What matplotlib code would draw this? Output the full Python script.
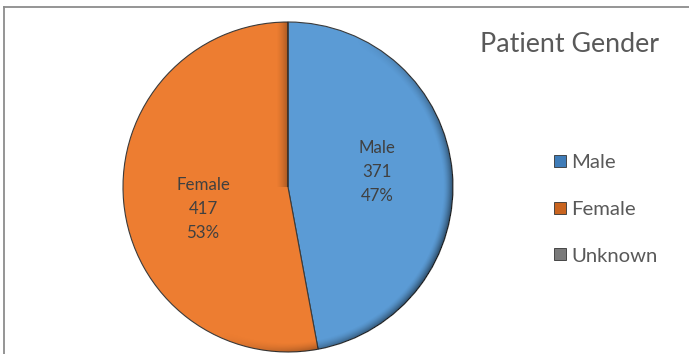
import matplotlib.pyplot as plt
from matplotlib.lines import Line2D
import numpy as np

# donnees du graphique
categories = ["Male", "Female", "Unknown"]
patients = [371, 417, 0]
couleurs = ["#5B9BD5", "#ED7D31", "#A5A5A5"]
couleurs_legende = ["#3F7CB8", "#C9641F", "#7A7A7A"]
titre = "Patient Gender"

W, H = 689, 354
cx, cy, R = 288, 167, 165

plt.rcParams['font.family'] = ['Lato', 'DejaVu Sans']

fig = plt.figure(figsize=(W / 100, H / 100), dpi=100)
ax = fig.add_axes([0, 0, 1, 1])

wedges, _ = ax.pie(patients, colors=couleurs, startangle=90, counterclock=False,
                   center=(cx, cy), radius=R,
                   wedgeprops=dict(edgecolor="#3b3b3b", linewidth=0.8))

# ombrage type biseau (bord droit / bas et cote de la separation)
xs = np.arange(W) + 0.5
ys = np.arange(H) + 0.5
X, Y = np.meshgrid(xs, ys)
r = np.hypot(X - cx, Y - cy)
ang = np.arctan2(Y - cy, X - cx)
d_bord = R - r
a = 0.55 * np.clip(1 - d_bord / 10, 0, 1) ** 1.6 * np.clip(np.cos(ang + np.radians(25)), 0, 1)
# ombre sur le orange le long du trait vertical du haut
d_sep = cx - X
a2 = 0.30 * np.clip(1 - d_sep / 12, 0, 1) ** 1.5 * ((d_sep > 0) & (Y > cy))
alpha = np.where(r <= R, np.maximum(a, a2), 0)
ombre = np.zeros((H, W, 4))
ombre[..., 3] = alpha
ax.imshow(ombre, extent=(0, W, 0, H), origin="lower", zorder=3, interpolation="bilinear")

# etiquettes des parts
total = sum(patients)
pos_etiq = [(377, H - 172), (203, H - 209)]
for i, (px, py) in enumerate(pos_etiq):
    txt = "%s\n%d\n%d%%" % (categories[i], patients[i], round(100 * patients[i] / total))
    ax.text(px, py, txt, ha="center", va="center", fontsize=12.2, color="#404040",
            linespacing=1.62, zorder=4)

ax.text(569, H - 45, titre, ha="center", va="center", fontsize=19.3, color="#595959")

poignees = [Line2D([], [], marker="s", linestyle="none", markersize=8,
                   markerfacecolor=c, markeredgecolor="#333333", markeredgewidth=0.6)
            for c in couleurs_legende]
ax.legend(poignees, categories, loc="upper left", bbox_to_anchor=(543 / W, 1 - 144 / H),
          frameon=False, fontsize=14.6, labelcolor="#595959", handlelength=0.7,
          handletextpad=0.2, labelspacing=1.45, borderpad=0)

# cadre du graphique
ax.plot([3.5, W], [H - 6.5, H - 6.5], color="#8c8c8c", lw=1.3, clip_on=False)
ax.plot([3.5, 3.5], [0, H - 6.5], color="#8c8c8c", lw=1.3, clip_on=False)

ax.set_xlim(0, W)
ax.set_ylim(0, H)
ax.set_aspect("auto")
ax.axis("off")

fig.savefig("out.png", dpi=100)
